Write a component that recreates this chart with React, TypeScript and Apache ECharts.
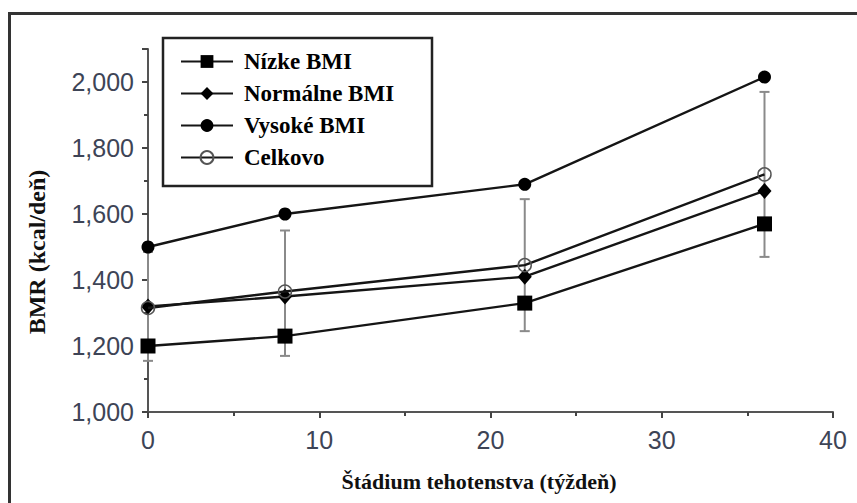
import React, { useEffect, useRef } from 'react';
import * as echarts from 'echarts';

const weeks = [0, 8, 22, 36];
const nizkeBMI = [1200, 1230, 1330, 1570];
const normalneBMI = [1320, 1350, 1410, 1670];
const vysokeBMI = [1500, 1600, 1690, 2015];
const celkovo = [1315, 1365, 1445, 1720];
const celkovoLow = [1155, 1170, 1245, 1470];
const celkovoHigh = [1485, 1550, 1645, 1970];
const seriesNames = ['Nízke BMI', 'Normálne BMI', 'Vysoké BMI', 'Celkovo'];
const xTitle = 'Štádium tehotenstva (týždeň)';
const yTitle = 'BMR (kcal/deň)';

const LABEL_COLOR = '#3d4456';
const AXIS_COLOR = '#555';

export default function App() {
  const ref = useRef<HTMLDivElement>(null);
  useEffect(() => {
    document.body.style.margin = '0';
    const chart = echarts.init(ref.current!, null, { renderer: 'svg' });
    const pts = (arr: number[]) => weeks.map((w, i) => [w, arr[i]]);
    const lineStyle = { color: '#151515', width: 2.4 };
    const option: any = {
      animation: false,
      backgroundColor: '#fff',
      grid: { left: 148, top: 49, right: 24, bottom: 91, containLabel: false },
      xAxis: {
        type: 'value', min: 0, max: 40, interval: 10,
        axisLine: { show: true, onZero: false, lineStyle: { color: AXIS_COLOR, width: 2 } },
        axisTick: { show: true, inside: false, length: 6, lineStyle: { color: '#444', width: 2 } },
        minorTick: { show: true, splitNumber: 2, length: 4, lineStyle: { color: '#444', width: 2 } },
        splitLine: { show: false },
        axisLabel: { fontSize: 25, fontFamily: 'Liberation Sans', color: LABEL_COLOR, margin: 15 },
      },
      yAxis: [
        {
          type: 'value', min: 1000, max: 2100, interval: 200,
          axisLine: { show: true, onZero: false, lineStyle: { color: AXIS_COLOR, width: 2 } },
          axisTick: { show: true, inside: false, length: 6, lineStyle: { color: '#444', width: 2 } },
          splitLine: { show: false },
          axisLabel: {
            fontSize: 25, fontFamily: 'Liberation Sans', color: LABEL_COLOR, margin: 14,
            formatter: (v: number) => (v % 200 === 0 ? v.toLocaleString('en-US') : ''),
          },
        },
        {
          type: 'value', min: 1000, max: 2100, interval: 100, position: 'left',
          axisLine: { show: false },
          axisTick: { show: true, inside: false, length: 4, lineStyle: { color: '#444', width: 2 } },
          splitLine: { show: false },
          axisLabel: { show: false },
        },
      ],
      legend: {
        orient: 'vertical', left: 180, top: 50, padding: 0, itemGap: 9,
        itemWidth: 52, itemHeight: 16, selectedMode: false,
        data: seriesNames,
        textStyle: { fontFamily: 'Liberation Serif', fontWeight: 'bold', fontSize: 23, color: '#000', padding: [0, 0, 0, 6] },
      },
      graphic: [
        { type: 'rect', silent: true, z: -10, shape: { x: 9.5, y: 13.5, width: 900, height: 600 }, style: { fill: 'none', stroke: '#333', lineWidth: 3 } },
        { type: 'rect', silent: true, z: -5, shape: { x: 163, y: 38, width: 269, height: 148 }, style: { fill: '#fff', stroke: '#222', lineWidth: 2.5 } },
        { type: 'text', x: 37, y: 252, rotation: Math.PI / 2, style: { text: yTitle, fontFamily: 'Liberation Serif', fontWeight: 'bold', fontSize: 24, fill: '#111', align: 'center', verticalAlign: 'middle' } },
        { type: 'text', x: 479, y: 481, style: { text: xTitle, fontFamily: 'Liberation Serif', fontWeight: 'bold', fontSize: 22, fill: '#111', align: 'center', verticalAlign: 'middle' } },
      ],
      series: [
        {
          type: 'custom', name: 'SD', z: 1, yAxisIndex: 0,
          data: weeks.map((w, i) => [w, celkovoLow[i], celkovoHigh[i]]),
          encode: { x: 0, y: [1, 2] },
          renderItem: (params: any, api: any) => {
            const x = api.value(0);
            const lo = api.coord([x, api.value(1)]);
            const hi = api.coord([x, api.value(2)]);
            const hw = 5;
            const style = { stroke: '#8a8a8a', lineWidth: 2 };
            return {
              type: 'group',
              children: [
                { type: 'line', shape: { x1: lo[0], y1: lo[1], x2: hi[0], y2: hi[1] }, style },
                { type: 'line', shape: { x1: lo[0] - hw, y1: lo[1], x2: lo[0] + hw, y2: lo[1] }, style },
                { type: 'line', shape: { x1: hi[0] - hw, y1: hi[1], x2: hi[0] + hw, y2: hi[1] }, style },
              ],
            };
          },
        },
        {
          type: 'line', name: seriesNames[0], data: pts(nizkeBMI), z: 3,
          symbol: 'rect', symbolSize: 15, lineStyle, itemStyle: { color: '#000' },
        },
        {
          type: 'line', name: seriesNames[1], data: pts(normalneBMI), z: 3,
          symbol: 'diamond', symbolSize: [14, 16], lineStyle, itemStyle: { color: '#000' },
        },
        {
          type: 'line', name: seriesNames[2], data: pts(vysokeBMI), z: 3,
          symbol: 'circle', symbolSize: 13, lineStyle, itemStyle: { color: '#000' },
        },
        {
          type: 'line', name: seriesNames[3], data: pts(celkovo), z: 4,
          symbol: 'circle', symbolSize: 13, lineStyle,
          itemStyle: { color: 'rgba(255,255,255,0)', borderColor: '#555', borderWidth: 1.5 },
        },
      ],
    };
    chart.setOption(option);
    return () => chart.dispose();
  }, []);
  return <div ref={ref} style={{ width: 857, height: 503 }} />;
}
